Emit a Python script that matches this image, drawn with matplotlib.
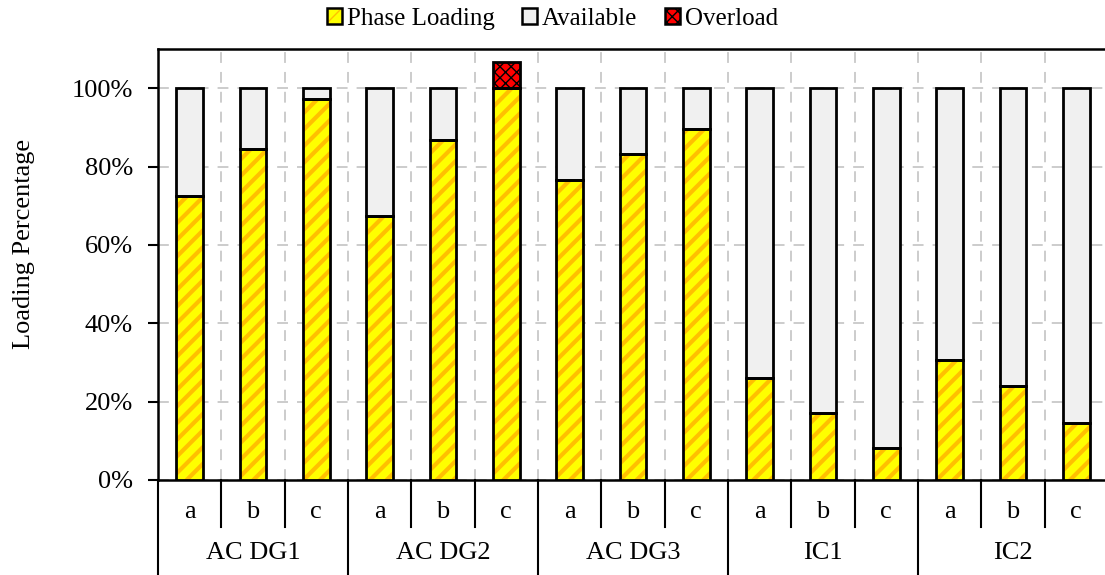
import matplotlib
matplotlib.use("Agg")
import matplotlib.pyplot as plt
from matplotlib.patches import Patch
from matplotlib.transforms import blended_transform_factory
import numpy as np

plt.rcParams['font.family'] = ['Liberation Serif', 'DejaVu Serif']

# Data
groups = ["AC DG1", "AC DG2", "AC DG3", "IC1", "IC2"]
phases = ["a", "b", "c"]
phase_loading = [72.6, 84.5, 97.2,
                 67.3, 86.7, 100.0,
                 76.5, 83.1, 89.7,
                 26.0, 17.1, 8.2,
                 30.6, 24.0, 14.5]
overload = [0, 0, 0,
            0, 0, 6.6,
            0, 0, 0,
            0, 0, 0,
            0, 0, 0]
yticks = [0, 20, 40, 60, 80, 100]

load = np.array(phase_loading)
over = np.array(overload)
avail = 100 - load
n = len(load)
x = np.arange(n) + 0.5

FS = 19
W, H = 1105, 575
fig = plt.figure(figsize=(W / 100, H / 100), dpi=100)
left, right, bottom, top = 158, 1108, 480, 49
ax = fig.add_axes([left / W, 1 - bottom / H, (right - left) / W, (bottom - top) / H])

YELLOW = "#FFFF00"
ORANGE = "#FFC000"
GREY = "#F0F0F0"
RED = "#FF0000"
bw = 0.42


def hatch_lw(artists, lw):
    for a in artists:
        if hasattr(a, "set_hatch_linewidth"):
            a.set_hatch_linewidth(lw)


# Phase loading: yellow with orange stripes, black outline on top
plt.rcParams['hatch.linewidth'] = 3.0
stripes = ax.bar(x, load, bw, color=YELLOW, edgecolor=ORANGE, hatch="//", linewidth=0, zorder=3)
hatch_lw(stripes, 3.0)
ax.bar(x, load, bw, fill=False, edgecolor="black", linewidth=2, zorder=4)
ax.bar(x, avail, bw, bottom=load, color=GREY, edgecolor="black", linewidth=2, zorder=3)
mask = over > 0
plt.rcParams['hatch.linewidth'] = 1.0
ov = ax.bar(x[mask], over[mask], bw, bottom=100, color=RED, edgecolor="black",
            hatch="xxx", linewidth=2, zorder=3)
hatch_lw(ov, 1.0)

ax.set_xlim(0, n)
ax.set_ylim(0, 110)
ax.set_yticks(yticks)
ax.set_yticklabels([f"{v}%" for v in yticks], fontsize=FS)
ax.set_xticks(np.arange(1, n))
ax.set_xticklabels([])
ax.tick_params(axis='x', length=0)
ax.tick_params(axis='y', length=7, width=1.5, direction='out', pad=11)
ax.grid(True, axis='both', linestyle=(0, (6, 5)), color="#C8C8C8", linewidth=1.3, zorder=0)
ax.set_axisbelow(True)

for s in ["left", "top", "bottom"]:
    ax.spines[s].set_linewidth(1.8)
ax.spines["right"].set_visible(False)

ax.set_ylabel("Loading Percentage", fontsize=FS)
ax.yaxis.set_label_coords(-0.129, (bottom - 244) / (bottom - top))

# Category axis below the plot
trans = blended_transform_factory(ax.transData, ax.transAxes)
h = bottom - top
sub_depth = -(527 - bottom) / h
grp_depth = -(H - bottom + 2) / h
for i in range(n + 1):
    depth = grp_depth if i % 3 == 0 else sub_depth
    ax.plot([i, i], [0, depth], color="black", lw=1.5, transform=trans, clip_on=False)
for i in range(n):
    ax.text(i + 0.5, -(512 - bottom) / h, phases[i % 3], transform=trans,
            ha="center", va="center", fontsize=FS)
for g, name in enumerate(groups):
    ax.text(g * 3 + 1.5, -(553 - bottom) / h, name, transform=trans,
            ha="center", va="center", fontsize=FS)

# Legend
plt.rcParams['hatch.linewidth'] = 2.0
h_load = (Patch(facecolor=YELLOW, edgecolor=ORANGE, hatch="//", linewidth=0),
          Patch(fill=False, edgecolor="black", linewidth=1.8))
h_avail = Patch(facecolor=GREY, edgecolor="black", linewidth=1.8)
plt.rcParams['hatch.linewidth'] = 1.0
h_over = Patch(facecolor=RED, edgecolor="black", hatch="xxx", linewidth=1.8)
fig.legend([h_load, h_avail, h_over], ["Phase Loading", "Available", "Overload"],
           loc="upper center", bbox_to_anchor=(0.5, 1.025), ncol=3, frameon=False,
           fontsize=18, handlelength=0.6, handleheight=0.6, handletextpad=0.2,
           columnspacing=1.1)

fig.savefig("out.png", dpi=100)
